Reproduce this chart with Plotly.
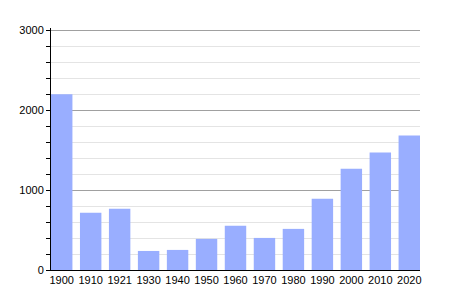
import plotly.graph_objects as go

years = ["1900", "1910", "1921", "1930", "1940", "1950", "1960", "1970", "1980", "1990", "2000", "2010", "2020"]
population = [2196, 715, 765, 238, 251, 389, 552, 401, 514, 891, 1267, 1468, 1681]
y_ticks = [0, 1000, 2000, 3000]
y_minor = [200, 400, 600, 800, 1200, 1400, 1600, 1800, 2200, 2400, 2600, 2800]

fig = go.Figure(go.Bar(
    x=years, y=population,
    marker=dict(color="#99AEFF", line=dict(width=0)),
))

fig.update_layout(
    width=450, height=300,
    margin=dict(l=51, r=30, t=28, b=30),
    paper_bgcolor="white", plot_bgcolor="white",
    bargap=0.26,
    showlegend=False,
    font=dict(family="Liberation Sans, Arial, sans-serif", size=11, color="black"),
)
fig.update_xaxes(
    type="category",
    range=[-0.37, len(years) - 1 + 0.37],
    showline=True, linecolor="black", linewidth=1,
    showgrid=False, ticks="", ticklen=0,
    tickfont=dict(size=11),
)
fig.update_yaxes(
    range=[0, 3025],
    tickvals=y_ticks, ticktext=[str(v) for v in y_ticks],
    showline=True, linecolor="black", linewidth=1,
    showgrid=True, gridcolor="#A0A0A0", gridwidth=1,
    ticks="outside", ticklen=4, tickcolor="black",
    minor=dict(tickvals=y_minor, showgrid=True, gridcolor="#E4E4E4", ticks="outside", ticklen=4, tickcolor="black"),
    zeroline=False,
    tickfont=dict(size=11),
)

fig.write_html("out.html")
